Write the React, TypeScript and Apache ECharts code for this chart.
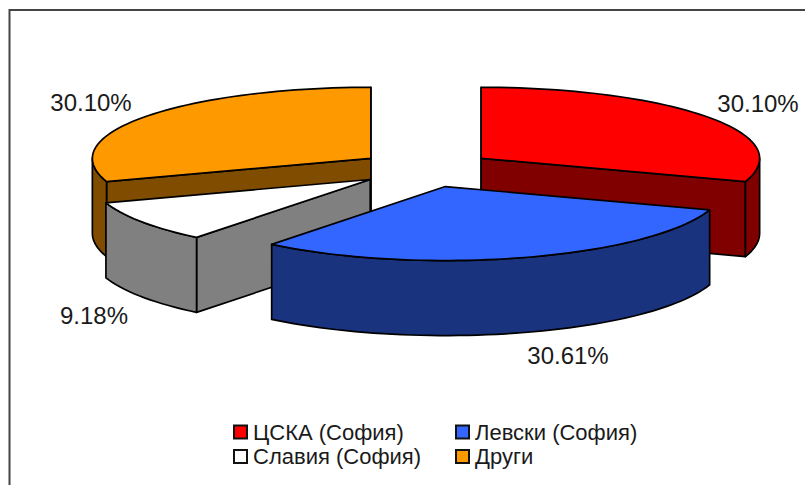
import React, { useEffect, useRef } from "react";
import * as echarts from "echarts";

const names = ["ЦСКА (София)", "Левски (София)", "Славия (София)", "Други"];
const values = [30.1, 30.61, 9.18, 30.1];
const topColors = ["#FF0000", "#3366FF", "#FFFFFF", "#FF9900"];
const sideColors = ["#800000", "#19337F", "#808080", "#804C00"];
const drawOrder = [1, 3, 2, 0]; // z index per slice: orange, red, white, blue from back to front
const labelPositions = [
  [758, 103],
  [568, 355],
  [94, 315],
  [91, 102],
];

const CX = 426;
const CY = 169;
const RX = 278.5;
const RY_BACK = 71;
const RY_FRONT = 74;
const H = 75;
const EXPLODE = 68;
const FONT = '"Liberation Sans", Arial, sans-serif';
const total = values.reduce((a, b) => a + b, 0);

function makeSlice(i: number) {
  const before = values.slice(0, i).reduce((a, b) => a + b, 0);
  const a0 = (before / total) * 360;
  const a1 = ((before + values[i]) / total) * 360;
  const rad = (d: number) => (d * Math.PI) / 180;
  const mid = (a0 + a1) / 2;
  const ax = CX + EXPLODE * Math.sin(rad(mid));
  const ay = CY - (EXPLODE * 75 * Math.cos(rad(mid))) / RX;
  const pt = (d: number, dy = 0) => {
    const c = Math.cos(rad(d));
    return [ax + RX * Math.sin(rad(d)), ay - (c > 0 ? RY_BACK : RY_FRONT) * c + dy];
  };
  const arc = (from: number, to: number, dy = 0) => {
    const n = Math.max(2, Math.ceil((to - from) / 2));
    const out: number[][] = [];
    for (let k = 0; k <= n; k++) out.push(pt(from + ((to - from) * k) / n, dy));
    return out;
  };
  const line = { stroke: "#000", lineWidth: 1.7, lineJoin: "round" };
  const poly = (points: number[][], fill: string) => ({
    type: "polygon",
    shape: { points },
    style: { fill, ...line },
  });
  const side = sideColors[i];
  const children: any[] = [];
  const cut = (d: number) =>
    poly([[ax, ay], pt(d), pt(d, H), [ax, ay + H]], side);
  if (Math.sin(rad(a0)) <= 1e-6) children.push(cut(a0));
  if (Math.sin(rad(a1)) >= -1e-6) children.push(cut(a1));
  const w0 = Math.max(a0, 90);
  const w1 = Math.min(a1, 270);
  if (w1 > w0) {
    children.push(poly([...arc(w0, w1), ...arc(w0, w1, H).reverse()], side));
  }
  children.push(poly([[ax, ay], ...arc(a0, a1)], topColors[i]));
  return children;
}

export default function App() {
  const ref = useRef<HTMLDivElement>(null);
  useEffect(() => {
    document.body.style.margin = "0";
    const chart = echarts.init(ref.current!, undefined, { renderer: "svg" });
    const legendBase = {
      orient: "vertical",
      itemWidth: 13,
      itemHeight: 13,
      itemGap: 2.5,
      selectedMode: false,
      padding: 0,
      icon: "rect",
      textStyle: { fontFamily: FONT, fontSize: 22, color: "#1a1a1a", padding: [0, 0, 0, 1] },
      itemStyle: { borderColor: "#111", borderWidth: 2 },
    };
    chart.setOption({
      animation: false,
      backgroundColor: "#fff",
      legend: [
        { ...legendBase, left: 233, top: 421, data: [names[0], names[2]] },
        { ...legendBase, left: 455, top: 421, data: [names[1], names[3]] },
      ],
      graphic: [
        {
          type: "rect",
          silent: true,
          shape: { x: 9.5, y: 10, width: 900, height: 600 },
          style: { fill: "none", stroke: "#444", lineWidth: 2 },
        },
      ],
      series: names.map((name, i) => ({
        type: "custom",
        name,
        coordinateSystem: "none",
        z: 2 + drawOrder[i],
        itemStyle: { color: topColors[i], borderColor: "#111" },
        data: [[values[i]]],
        renderItem: (_p: any, api: any) => ({
          type: "group",
          children: [
            ...makeSlice(i),
            {
              type: "text",
              style: {
                text: `${api.value(0).toFixed(2)}%`,
                x: labelPositions[i][0],
                y: labelPositions[i][1],
                fill: "#1a1a1a",
                font: `24px ${FONT}`,
                textAlign: "center",
                textVerticalAlign: "middle",
              },
            },
          ],
        }),
      })),
    });
    return () => chart.dispose();
  }, []);
  return (
    <div
      ref={ref}
      style={{ position: "absolute", left: 0, top: 0, width: 805, height: 485 }}
    />
  );
}
